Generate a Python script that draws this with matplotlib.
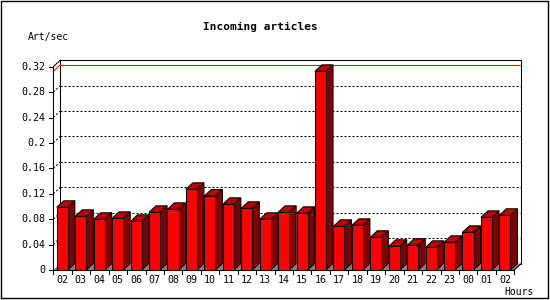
import matplotlib
matplotlib.use("Agg")
import matplotlib.pyplot as plt
from matplotlib.patches import Rectangle, Polygon
from matplotlib.lines import Line2D

hours = ["02", "03", "04", "05", "06", "07", "08", "09", "10", "11", "12", "13",
         "14", "15", "16", "17", "18", "19", "20", "21", "22", "23", "00", "01", "02"]
values = [0.0987, 0.0845, 0.0798, 0.0813, 0.0766, 0.0908, 0.0955, 0.127, 0.1165,
          0.1034, 0.0971, 0.0798, 0.0908, 0.0892, 0.3127, 0.0688, 0.0703, 0.0515,
          0.0373, 0.0389, 0.0357, 0.0436, 0.0593, 0.0829, 0.0861]
yticks = [0, 0.04, 0.08, 0.12, 0.16, 0.2, 0.24, 0.28, 0.32]
ytick_labels = ["0", "0.04", "0.08", "0.12", "0.16", "0.2", "0.24", "0.28", "0.32"]
title = "Incoming articles"
ylabel = "Art/sec"
xlabel = "Hours"

W, H = 550, 300
fig = plt.figure(figsize=(W / 100, H / 100), dpi=100)
fig.patch.set_facecolor("white")

# front plot rectangle in pixels
left_px, right_px, bottom_px, top_px = 53.3, 514.3, 270, 66.7
ax = fig.add_axes([left_px / W, 1 - bottom_px / H, (right_px - left_px) / W,
                   (bottom_px - top_px) / H])
n = len(values)
ymax = 0.32
ax.set_xlim(0, n)
ax.set_ylim(0, ymax)
ax.axis("off")

px_x = (right_px - left_px) / n
px_y = (bottom_px - top_px) / ymax
dx = 7 / px_x
dy = 6.5 / px_y
LW = 0.75
DASH = (1.92, 1.92)
mono = "DejaVu Sans Mono"

# floor
ax.add_patch(Polygon([(0, 0), (n, 0), (n + dx, dy), (dx, dy)], closed=True,
                     facecolor="#808080", edgecolor="none", clip_on=False, zorder=1))
# back wall
ax.add_patch(Rectangle((dx, dy), n, ymax, facecolor="white", edgecolor="black",
                       lw=LW, clip_on=False, zorder=0.5))
# grid lines on back wall and side wall
for v in yticks[1:-1]:
    ax.add_line(Line2D([dx, n + dx], [v + dy, v + dy], color="black", lw=LW,
                       dashes=DASH, clip_on=False, zorder=0.8))
    ax.add_line(Line2D([0, dx], [v, v + dy], color="black", lw=LW,
                       dashes=DASH, clip_on=False, zorder=0.8))
# max line
m = max(values)
ax.add_line(Line2D([dx, n + dx], [m + dy, m + dy], color="red", lw=LW,
                   clip_on=False, zorder=0.9))
ax.add_line(Line2D([0, dx], [m, m + dy], color="red", lw=LW, clip_on=False, zorder=0.9))

# bars
off, bw = 0.19, 0.6
for i, v in enumerate(values):
    x0 = i + off
    ax.add_patch(Polygon([(x0 + bw, 0), (x0 + bw + dx, dy), (x0 + bw + dx, v + dy), (x0 + bw, v)],
                         closed=True, facecolor="#800000", edgecolor="black", lw=LW,
                         clip_on=False, zorder=2))
    ax.add_patch(Polygon([(x0, v), (x0 + bw, v), (x0 + bw + dx, v + dy), (x0 + dx, v + dy)],
                         closed=True, facecolor="#c00000", edgecolor="black", lw=LW,
                         clip_on=False, zorder=2))
    ax.add_patch(Rectangle((x0, 0), bw, v, facecolor="#ff0000", edgecolor="black",
                           lw=LW, clip_on=False, zorder=2.1))

# front axes lines
ax.add_line(Line2D([0, 0], [0, ymax], color="black", lw=LW, clip_on=False, zorder=3))
ax.add_line(Line2D([0, dx], [ymax, ymax + dy], color="black", lw=LW, clip_on=False, zorder=3))
ax.add_line(Line2D([0, n], [0, 0], color="black", lw=LW, clip_on=False, zorder=3))
ax.add_line(Line2D([n, n + dx], [0, dy], color="black", lw=LW, clip_on=False, zorder=3))

# y ticks and labels
tick_x = 4 / px_x
for v, lab in zip(yticks, ytick_labels):
    ax.add_line(Line2D([-tick_x, 0], [v, v], color="black", lw=LW, clip_on=False, zorder=3))
    ax.text(-7.5 / px_x, v, lab, ha="right", va="center", fontsize=7.2,
            family=mono, clip_on=False)
# x ticks and labels
for i in range(n + 1):
    ax.add_line(Line2D([i, i], [0, -3.5 / px_y], color="black", lw=LW, clip_on=False, zorder=3))
for i, lab in enumerate(hours):
    ax.text(i + off + bw / 2, -10 / px_y, lab, ha="center", va="center", fontsize=7.2,
            family=mono, clip_on=False)

fig.text(260 / W, 1 - 26.7 / H, title, ha="center", va="center", fontsize=8,
         fontweight="bold", family=mono)
fig.text(28 / W, 1 - 37.3 / H, ylabel, ha="left", va="center", fontsize=7, family=mono)
fig.text(534 / W, 1 - 292.3 / H, xlabel, ha="right", va="center", fontsize=7, family=mono)

# outer frame
fx0, fx1 = 0.5 / W, 548 / W
fy0, fy1 = 1 - 298 / H, 1 - 0.5 / H
fig.add_artist(Line2D([fx0, fx1, fx1, fx0, fx0], [fy0, fy0, fy1, fy1, fy0],
                      transform=fig.transFigure, color="black", lw=1.0))

fig.savefig("out.png", dpi=100)
